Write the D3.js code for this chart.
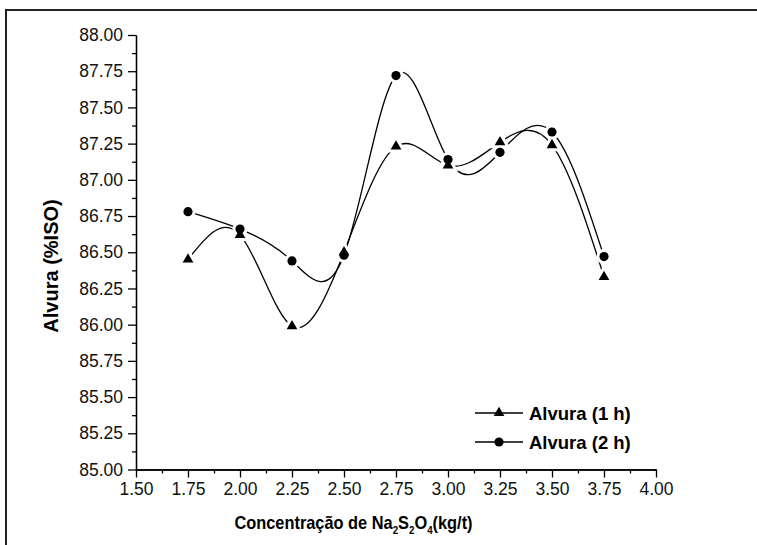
<!DOCTYPE html>
<html>
<head>
<meta charset="utf-8">
<script src="https://cdn.jsdelivr.net/npm/d3@7"></script>
<style>
  body { margin: 0; background: #fff; }
  svg { display: block; font-family: "Liberation Sans", Arial, sans-serif; }
</style>
</head>
<body>
<div id="chart"></div>
<script>
// data
var conc = [1.75, 2.00, 2.25, 2.50, 2.75, 3.00, 3.25, 3.50, 3.75];
var alvura1h = [86.45, 86.62, 85.99, 86.50, 87.23, 87.10, 87.26, 87.24, 86.33];
var alvura2h = [86.78, 86.66, 86.44, 86.48, 87.72, 87.14, 87.19, 87.33, 86.47];
var seriesNames = ["Alvura (1 h)", "Alvura (2 h)"];
var xTicks = [1.50, 1.75, 2.00, 2.25, 2.50, 2.75, 3.00, 3.25, 3.50, 3.75, 4.00];
var yTicks = [85.00, 85.25, 85.50, 85.75, 86.00, 86.25, 86.50, 86.75, 87.00, 87.25, 87.50, 87.75, 88.00];

var width = 757,
    height = 545;

var svg = d3.select("#chart").append("svg")
    .attr("width", width)
    .attr("height", height);

// outer frame (top + left edges visible)
svg.append("path")
    .attr("d", "M6,545V10H757")
    .attr("fill", "none")
    .attr("stroke", "#222")
    .attr("stroke-width", 2);

var x = d3.scaleLinear().domain([1.5, 4.0]).range([136, 656]);
var y = d3.scaleLinear().domain([85, 88]).range([469.5, 35]);

var fmt = d3.format(".2f");

// minor ticks halfway between majors
var xMinor = xTicks.slice(1).map(function(d) { return d - 0.125; });
var yMinor = yTicks.slice(1).map(function(d) { return d - 0.125; });

function styleAxis(g) {
    g.selectAll("path, line").attr("stroke", "#000").attr("stroke-width", 1.3);
    g.selectAll("text")
        .attr("fill", "#111")
        .style("font-size", "17.5px");
}

svg.append("g")
    .attr("transform", "translate(0," + y(85) + ")")
    .call(d3.axisBottom(x).tickValues(xMinor).tickSize(4).tickFormat("").tickSizeOuter(0))
    .call(styleAxis);

svg.append("g")
    .attr("transform", "translate(0," + y(85) + ")")
    .call(d3.axisBottom(x).tickValues(xTicks).tickSize(8).tickPadding(5).tickFormat(fmt).tickSizeOuter(0))
    .call(styleAxis);

svg.append("g")
    .attr("transform", "translate(" + x(1.5) + ",0)")
    .call(d3.axisLeft(y).tickValues(yMinor).tickSize(4).tickFormat("").tickSizeOuter(0))
    .call(styleAxis);

svg.append("g")
    .attr("transform", "translate(" + x(1.5) + ",0)")
    .call(d3.axisLeft(y).tickValues(yTicks).tickSize(8).tickPadding(5).tickFormat(fmt).tickSizeOuter(0))
    .call(styleAxis);

// axis titles (the original lettering is a little condensed)
svg.append("text")
    .attr("transform", "translate(353.5,529) scale(0.885,1)")
    .attr("text-anchor", "middle")
    .style("font-size", "18.5px")
    .style("font-weight", "bold")
    .html('Concentração de Na<tspan dy="5" font-size="11px">2</tspan><tspan dy="-5">S</tspan><tspan dy="5" font-size="11px">2</tspan><tspan dy="-5">O</tspan><tspan dy="5" font-size="11px">4</tspan><tspan dy="-5">(kg/t)</tspan>');

svg.append("text")
    .attr("transform", "translate(58,266) rotate(-90)")
    .attr("text-anchor", "middle")
    .style("font-size", "20px")
    .style("font-weight", "bold")
    .text("Alvura (%ISO)");

var series = [
    { name: seriesNames[0], values: alvura1h, shape: d3.symbolTriangle, size: 50 },
    { name: seriesNames[1], values: alvura2h, shape: d3.symbolCircle, size: 66 }
];

var line = d3.line()
    .x(function(d) { return x(d[0]); })
    .y(function(d) { return y(d[1]); })
    .curve(d3.curveNatural);

series.forEach(function(s) {
    svg.append("path")
        .datum(conc.map(function(c, i) { return [c, s.values[i]]; }))
        .attr("fill", "none")
        .attr("stroke", "#000")
        .attr("stroke-width", 1.3)
        .attr("d", line);
});

// white halos first so lines break around symbols, then the symbols
series.forEach(function(s) {
    svg.append("g").selectAll("path")
        .data(conc.map(function(c, i) { return [c, s.values[i]]; }))
        .enter().append("path")
        .attr("transform", function(d) { return "translate(" + x(d[0]) + "," + y(d[1]) + ")"; })
        .attr("d", d3.symbol().type(s.shape).size(s.size))
        .attr("fill", "#fff")
        .attr("stroke", "#fff")
        .attr("stroke-width", 6);
});

series.forEach(function(s) {
    svg.append("g").selectAll("path")
        .data(conc.map(function(c, i) { return [c, s.values[i]]; }))
        .enter().append("path")
        .attr("transform", function(d) { return "translate(" + x(d[0]) + "," + y(d[1]) + ")"; })
        .attr("d", d3.symbol().type(s.shape).size(s.size))
        .attr("fill", "#000");
});

// legend
var legend = svg.append("g").attr("transform", "translate(475,413)");

series.forEach(function(s, i) {
    var row = legend.append("g").attr("transform", "translate(0," + (i * 29) + ")");
    row.append("line")
        .attr("x1", 0).attr("x2", 48)
        .attr("stroke", "#000").attr("stroke-width", 1.3);
    row.append("path")
        .attr("transform", "translate(24,0)")
        .attr("d", d3.symbol().type(s.shape).size(s.size))
        .attr("fill", "#000");
    row.append("text")
        .attr("x", 54)
        .attr("y", 6.5)
        .style("font-size", "18.5px")
        .style("font-weight", "bold")
        .text(s.name);
});
</script>
</body>
</html>
